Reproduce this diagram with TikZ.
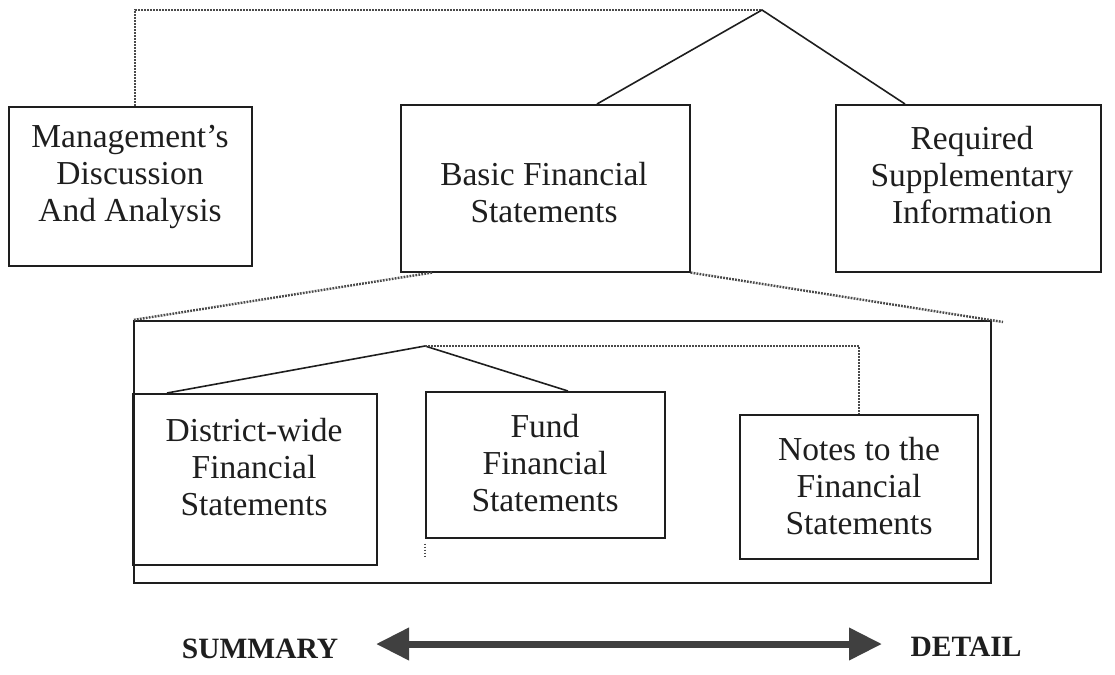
\documentclass[tikz,border=0pt]{standalone}
\usepackage{fontspec}
\setmainfont{Liberation Serif}
\usetikzlibrary{arrows.meta,calc}
\definecolor{ink}{HTML}{1E1E1E}
\definecolor{dotc}{HTML}{4A4A4A}
\definecolor{arrowc}{HTML}{404040}
\begin{document}
\begin{tikzpicture}[x=1pt,y=-1pt,
  box/.style={draw=ink, line width=1.6pt, inner sep=0pt, anchor=north west},
  lbl/.style={align=center, inner sep=0pt, font=\fontsize{33.5}{37}\selectfont, text=ink},
  dots/.style={draw=dotc, line width=2.4pt, dash pattern=on 1.8pt off 1.2pt},
  solidline/.style={draw=ink, line width=1.6pt},
  side/.style={font=\bfseries\fontsize{29.5}{32}\selectfont, text=ink, inner sep=0pt},
  bigarrow/.style={draw=arrowc, line width=7pt,
    {Triangle[length=33pt,width=31pt]}-{Triangle[length=33pt,width=31pt]}}]
\path[use as bounding box] (0,0) rectangle (1115,674);

% top-level boxes
\node[box, minimum width=243pt, minimum height=159pt] (mda) at (8,106) {};
\node[box, minimum width=289pt, minimum height=167pt] (basic) at (400,104) {};
\node[box, minimum width=265pt, minimum height=167pt] (rsi) at (835,104) {};

\node[lbl] (mdat) at (130,177) {Management's\\Discussion\\And Analysis};
\node[lbl] (basict) at (544,193) {Basic Financial\\Statements};
\node[lbl] (rsit) at (972,175) {Required\\Supplementary\\Information};

% outer container and inner boxes
\node[box, minimum width=857pt, minimum height=262pt] (outer) at (133,320) {};
\node[box, minimum width=244pt, minimum height=171pt] (dist) at (132,393) {};
\node[box, minimum width=239pt, minimum height=146pt] (fund) at (425,391) {};
\node[box, minimum width=238pt, minimum height=144pt] (notes) at (739,414) {};

\node[lbl] (distt) at (254,467) {District-wide\\Financial\\Statements};
\node[lbl] (fundt) at (545,463) {Fund\\Financial\\Statements};
\node[lbl] (notest) at (859,486) {Notes to the\\Financial\\Statements};

% top connectors
\coordinate (apex) at (762,10);
\draw[dots] ($(mda.north west)+(127,0)$) |- (apex);
\draw[solidline] ($(basic.north west)+(197,0)$) -- (apex) -- ($(rsi.north west)+(70,0)$);

% expansion lines
\coordinate (xend) at (1003,322);
\draw[dots] ($(basic.south west)+(32,0)$) -- (outer.north west);
\draw[dots] (basic.south east) -- (xend);

% inner connectors
\coordinate (iapex) at (425,346);
\draw[solidline] ($(dist.north west)+(35,0)$) -- (iapex) -- ($(fund.north west)+(143,0)$);
\draw[dots] (iapex) -| (notes.north);
\draw[dots] ($(fund.south west)+(0,5)$) -- ++(0,14);

% summary / detail axis
\node[side] (summ) at (260,649) {SUMMARY};
\node[side] (det) at (966,647) {DETAIL};
\coordinate (al) at (376,644);
\coordinate (ar) at (882,644);
\draw[bigarrow] (al) -- (ar);
\end{tikzpicture}
\end{document}
